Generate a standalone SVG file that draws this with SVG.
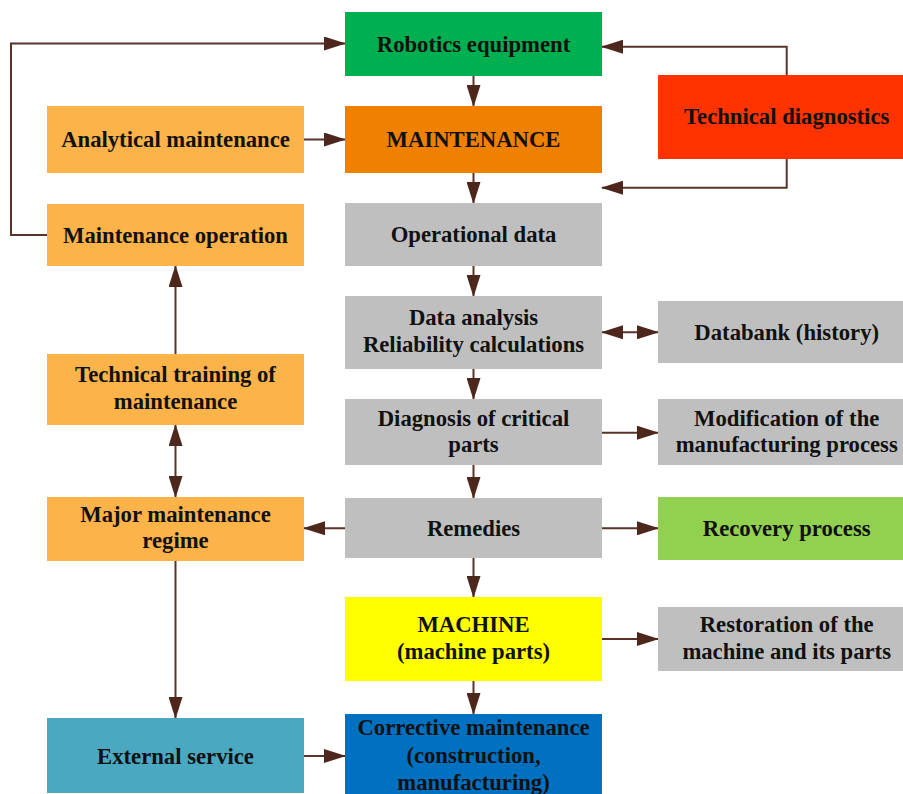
<svg xmlns="http://www.w3.org/2000/svg" width="903" height="794" viewBox="0 0 903 794">
  <style>
    .box { stroke: none; }
    .lbl { font-family: "Liberation Serif", "Times New Roman", serif; font-weight: bold; font-size: 22.7px; fill: #111; text-anchor: middle; }
    .wire { fill: none; stroke: #5a3328; stroke-width: 2; }
    .arr { marker-end: url(#head); }
    .both { marker-start: url(#head); marker-end: url(#head); }
  </style>
  <defs>
    <marker id="head" markerUnits="userSpaceOnUse" markerWidth="22" markerHeight="14" viewBox="0 0 22 14" refX="21" refY="7" orient="auto-start-reverse">
      <path d="M0,0 L22,7 L0,14 z" fill="#4e271c"/>
    </marker>
  </defs>
  <rect width="903" height="794" fill="#fff"/>

  <!-- connectors -->
  <g id="connectors">
    <!-- main column -->
    <line class="wire arr" x1="473.5" y1="76" x2="473.5" y2="106"/>
    <line class="wire arr" x1="473.5" y1="173" x2="473.5" y2="203"/>
    <line class="wire arr" x1="473.5" y1="266" x2="473.5" y2="296"/>
    <line class="wire arr" x1="473.5" y1="369" x2="473.5" y2="399"/>
    <line class="wire arr" x1="473.5" y1="465" x2="473.5" y2="498"/>
    <line class="wire arr" x1="473.5" y1="558" x2="473.5" y2="597"/>
    <line class="wire arr" x1="473.5" y1="681" x2="473.5" y2="714"/>
    <!-- left column -->
    <line class="wire arr" x1="304" y1="139.5" x2="345" y2="139.5"/>
    <polyline class="wire arr" points="47,235 11,235 11,43.5 345,43.5"/>
    <line class="wire arr" x1="175.5" y1="354" x2="175.5" y2="266"/>
    <line class="wire both" x1="175.5" y1="425" x2="175.5" y2="497"/>
    <line class="wire arr" x1="175.5" y1="561" x2="175.5" y2="718"/>
    <line class="wire arr" x1="304" y1="756" x2="345" y2="756"/>
    <line class="wire arr" x1="345" y1="528.3" x2="304" y2="528.3"/>
    <!-- right column -->
    <polyline class="wire arr" points="786.7,75 786.7,46.7 602,46.7"/>
    <polyline class="wire arr" points="786.7,159 786.7,187.7 602,187.7"/>
    <line class="wire both" x1="602" y1="332.3" x2="658" y2="332.3"/>
    <line class="wire arr" x1="602" y1="432.7" x2="658" y2="432.7"/>
    <line class="wire arr" x1="602" y1="528.3" x2="658" y2="528.3"/>
    <line class="wire arr" x1="602" y1="639" x2="658" y2="639"/>
  </g>

  <!-- central column -->
  <g id="robotics-equipment">
    <rect class="box" x="345" y="12" width="257" height="64" fill="#00b050"/>
    <text class="lbl" x="473.5" y="51.5">Robotics equipment</text>
  </g>
  <g id="maintenance">
    <rect class="box" x="345" y="106" width="257" height="67" fill="#f08000"/>
    <text class="lbl" x="473.5" y="147">MAINTENANCE</text>
  </g>
  <g id="operational-data">
    <rect class="box" x="345" y="203" width="257" height="63" fill="#bfbfbf"/>
    <text class="lbl" x="473.5" y="242">Operational data</text>
  </g>
  <g id="data-analysis">
    <rect class="box" x="345" y="296" width="257" height="73" fill="#bfbfbf"/>
    <text class="lbl" x="473.5" y="325">Data analysis</text>
    <text class="lbl" x="473.5" y="352">Reliability calculations</text>
  </g>
  <g id="diagnosis">
    <rect class="box" x="345" y="399" width="257" height="66" fill="#bfbfbf"/>
    <text class="lbl" x="473.5" y="425.7">Diagnosis of critical</text>
    <text class="lbl" x="473.5" y="452.3">parts</text>
  </g>
  <g id="remedies">
    <rect class="box" x="345" y="498" width="257" height="60" fill="#bfbfbf"/>
    <text class="lbl" x="473.5" y="535.5">Remedies</text>
  </g>
  <g id="machine">
    <rect class="box" x="345" y="597" width="257" height="84" fill="#ffff00"/>
    <text class="lbl" x="473.5" y="631.7">MACHINE</text>
    <text class="lbl" x="473.5" y="659.3">(machine parts)</text>
  </g>
  <g id="corrective-maintenance">
    <rect class="box" x="345" y="714" width="257" height="80" fill="#0070c0"/>
    <text class="lbl" x="473.5" y="735">Corrective maintenance</text>
    <text class="lbl" x="473.5" y="762.7">(construction,</text>
    <text class="lbl" x="473.5" y="790">manufacturing)</text>
  </g>

  <!-- left column -->
  <g id="analytical-maintenance">
    <rect class="box" x="47" y="106" width="257" height="67" fill="#fcb349"/>
    <text class="lbl" x="175.5" y="147">Analytical maintenance</text>
  </g>
  <g id="maintenance-operation">
    <rect class="box" x="47" y="204" width="257" height="62" fill="#fcb349"/>
    <text class="lbl" x="175.5" y="242.5">Maintenance operation</text>
  </g>
  <g id="technical-training">
    <rect class="box" x="47" y="354" width="257" height="71" fill="#fcb349"/>
    <text class="lbl" x="175.5" y="381.7">Technical training of</text>
    <text class="lbl" x="175.5" y="409.3">maintenance</text>
  </g>
  <g id="major-maintenance">
    <rect class="box" x="47" y="497" width="257" height="64" fill="#fcb349"/>
    <text class="lbl" x="175.5" y="521.7">Major maintenance</text>
    <text class="lbl" x="175.5" y="548.3">regime</text>
  </g>
  <g id="external-service">
    <rect class="box" x="47" y="718" width="257" height="75" fill="#4aa8c1"/>
    <text class="lbl" x="175.5" y="763.5">External service</text>
  </g>

  <!-- right column -->
  <g id="technical-diagnostics">
    <rect class="box" x="658" y="75" width="257" height="84" fill="#ff3300"/>
    <text class="lbl" x="786.7" y="124">Technical diagnostics</text>
  </g>
  <g id="databank">
    <rect class="box" x="658" y="301" width="257" height="62" fill="#bfbfbf"/>
    <text class="lbl" x="786.7" y="339.5">Databank (history)</text>
  </g>
  <g id="modification">
    <rect class="box" x="658" y="399" width="257" height="66" fill="#bfbfbf"/>
    <text class="lbl" x="786.7" y="425.7">Modification of the</text>
    <text class="lbl" x="786.7" y="452.3">manufacturing process</text>
  </g>
  <g id="recovery-process">
    <rect class="box" x="658" y="497" width="257" height="63" fill="#92d050"/>
    <text class="lbl" x="786.7" y="536">Recovery process</text>
  </g>
  <g id="restoration">
    <rect class="box" x="658" y="607" width="257" height="64" fill="#bfbfbf"/>
    <text class="lbl" x="786.7" y="631.7">Restoration of the</text>
    <text class="lbl" x="786.7" y="659.3">machine and its parts</text>
  </g>
</svg>
